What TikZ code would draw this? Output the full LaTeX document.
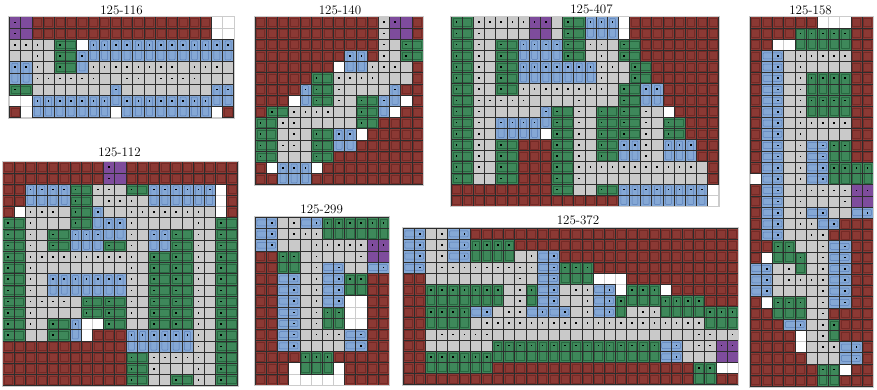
\documentclass[tikz,border=0pt]{standalone}
\definecolor{wallred}{RGB}{139,57,52}
\definecolor{wallin}{RGB}{116,42,38}
\definecolor{floorgrey}{RGB}{201,201,201}
\definecolor{pgreen}{RGB}{62,136,90}
\definecolor{pgreenin}{RGB}{40,104,64}
\definecolor{pblue}{RGB}{133,168,213}
\definecolor{pbluein}{RGB}{92,128,184}
\definecolor{ppurple}{RGB}{126,76,156}
\definecolor{gridc}{RGB}{45,45,45}
\newcount\gx \newcount\gy
\def\rowloopA#1{\ifx#1\relax\let\gnextA\relax\else\cellA#1\global\advance\gx by 1 \let\gnextA\rowloopA\fi\gnextA}
\def\rowloopB#1{\ifx#1\relax\let\gnextB\relax\else\cellB#1\global\advance\gx by 1 \let\gnextB\rowloopB\fi\gnextB}
\def\cellA#1{\path[cl#1] (\gox+\the\gx*\gs,\goy+\the\gy*\gs) rectangle ++(\gs,\gs);}
\def\cellB#1{\pgfmathsetmacro\cX{\gox+\the\gx*\gs}\pgfmathsetmacro\cY{\goy+\the\gy*\gs}\csname deco#1\endcsname}
\def\bline{\draw[gline] (\cX,\cY) rectangle ++(\gs,\gs);}
\def\celldot{\fill[black] (\cX+\gs/2-0.8,\cY+\gs/2-0.8) rectangle ++(1.6,1.6);}
\def\decor{\draw[wallinset] (\cX+1.6,\cY+1.6) rectangle ++(\gs-3.2,\gs-3.2);\bline}
\def\decoe{\bline}
\def\decoE{\bline\celldot}
\def\decop{\bline}
\def\decoP{\bline\celldot}
\def\decog{\bline}
\def\decob{\bline}
\def\decoG{\draw[greeninset] (\cX+1.8,\cY+1.8) rectangle (\cX+2*\gs-1.8,\cY+\gs-1.8);\bline\celldot}
\def\decoH{\draw[greeninset] (\cX+1.8,\cY+1.8) rectangle (\cX+\gs-1.8,\cY+2*\gs-1.8);\bline\celldot}
\def\decoB{\draw[blueinset] (\cX+2.6,\cY+1.8) rectangle (\cX+\gs-2.6,\cY+2*\gs-1.8);\bline\celldot}
\def\decoC{\draw[blueinset] (\cX-\gs+1.8,\cY+2.6) rectangle (\cX+\gs-1.8,\cY+\gs-2.6);\bline\celldot}
\newcommand\drawgrid[4]{%
 \def\gox{#1}\def\goy{#2}\def\gs{#3}%
 \global\gy=0
 \foreach \rowstr in {#4}{\global\gx=0 \expandafter\rowloopA\rowstr\relax\global\advance\gy by 1 }%
 \global\gy=0
 \foreach \rowstr in {#4}{\global\gx=0 \expandafter\rowloopB\rowstr\relax\global\advance\gy by 1 }%
 \draw[gframe] (\gox-0.6,\goy-0.6) rectangle (\gox+\the\gx*\gs+0.6,\goy+\the\gy*\gs+0.6);%
}
\tikzset{
 clr/.style={fill=wallred}, cle/.style={fill=floorgrey}, clE/.style={fill=floorgrey},
 clw/.style={fill=white,draw=black!20,line width=0.4pt},
 clp/.style={fill=ppurple}, clP/.style={fill=ppurple},
 clg/.style={fill=pgreen}, clG/.style={fill=pgreen}, clH/.style={fill=pgreen},
 clb/.style={fill=pblue}, clB/.style={fill=pblue}, clC/.style={fill=pblue},
 gline/.style={draw=gridc,line width=0.45pt},
 wallinset/.style={draw=wallin,line width=0.5pt},
 greeninset/.style={draw=pgreenin,line width=0.5pt},
 blueinset/.style={draw=pbluein,line width=0.5pt,rounded corners=0.8pt},
 gframe/.style={draw=black!20,line width=0.8pt},
 ttl/.style={font=\fontsize{13}{15}\selectfont,inner sep=0pt}
}
\begin{document}
\begin{tikzpicture}[x=1pt,y=-1pt]
\useasboundingbox (0,0) rectangle (877,390);
\fill[white] (0,0) rectangle (877,390);
% 125-116
\drawgrid{9.3}{16.7}{11.22}{
Pprrrrrrrrrrrrrrrrww,
Pprrrrrrrrrrrrrrrrww,
EEEeGgwBBBBBBBBBBBBB,
eeEeGgBbbbbbbbbbbbbb,
BBEeGgbEEEEEEEEeEEEe,
bbEEEEEEeeEEeEEEEeee,
GgeeeeeeeBeeeeeeeeBB,
wwBBBBBBBbBBBBBBBBbb,
rwbbbbbbbwbbbbbbbbwr}
% 125-140
\drawgrid{255}{16.7}{11.2}{
rrrrrrrrrrrEPpr,
rrrrrrrrrrrEppr,
rrrrrrrrrrrEeGg,
rrrrrrrrBBrEeGg,
rrrrrrrwbbEEEer,
rrrrrGgEEEEeeer,
rrrrBGgEeeeeBrr,
rrrwbGgEeGgBbwr,
rGgEEEEeeGgbwrr,
GgEEeeeeeGgrrrr,
GgeEeGgBBwrrrrr,
GgEEeGgbbrrrrrr,
GgeeeGgrrrrrrrr,
rwBBBwrrrrrrrrr,
rrbbbrrrrrrrrrr}
% 125-407
\drawgrid{451}{16.7}{11.15}{
GgEEEEEPPeGgBBBwrrrrrrrr,
GgEeeeeppeGgbbbwrrrrrrrr,
GgEeGgBBBBGgEEeGgrrrrrrr,
GgEeGgbbbbGgeEeGgrrrrrrr,
GgEeGgBBBBBBBEEeGgrrrrrr,
GgEeGgbbbbbbbEeeGgrrrrrr,
GgEeGgEEEEEEEEeGgBBrrrrr,
GgEEEEEeeeeEeeeGgbbrrrrr,
GgEeeeeeBGgEeGgGgEewrrrr,
GgEeBBBBbGgEeGgGgEeGgrrr,
GgEebbbbwGgEeGgGgEeGgrrr,
GgEeGgrrrGgEeGgBBEeBBBrr,
GgEeGgrrrGgEeGgbbEebbbrr,
GgEeGgrrrGgEEEEEEEEEEEer,
GgeeGgrrrGgEeeeeeeeeeeer,
rrrrrrrrrGgeeGgBBBBBBBBw,
rrrrrrrrrrrrrrrbbbbbbbbw}
% 125-158
\drawgrid{750}{16.7}{11.2}{
rrrrrrwwwrr,
rrrrHHHHHrr,
rrwwgggggrr,
rbCeEEEEErr,
rbCeEeeeerr,
rbCeEHHHHrr,
rbCeEggggrr,
rbCeEHHHHrr,
rbCeEggggrr,
rbCeEEEEErr,
rbCeEeeeerr,
rbCeEbCHHrr,
rbCeEbCggrr,
rbCeEbCHHHH,
wbCeEbCgggg,
rbCeEEEEEPP,
rbCeEeeeEpp,
rbCeEbCeebC,
rbCeEEbCrrr,
rbCeeEErrrr,
rrHHeeEbCrr,
rwggHeEbCrr,
bCeEgeEbCrr,
bCeEEEEbCrr,
bCeeeeEbCrr,
rwHHHeEbCrr,
rrgggeErrrr,
rrrbCeEHrrr,
rrrrweEgrrr,
rrrrweEEbCr,
rrrrreeebCr,
rrrrrrHHwrr,
rrrrrrggrrr}
% 125-112
\drawgrid{2.7}{161.7}{11.19}{
rrrrrrrrrPprrrrrrrrrr,
rrrrrrrrrPprrrrrrrrrr,
rrBBBBGgEEeGgBBBBBBwr,
rrbbbbGgeEEEebbbbbbwr,
rwEEEeGgBeeEEEEEEEewr,
GgEeeeGgbBBEeeeeeEeGg,
GgEeGgBBBbbEeBBGgEeGg,
GgEeGgbbbGgEebbGgEeGg,
GgEEEEEEEEEEeGgGgEeGg,
GgEeeeeeeeeEeGgGgEeGg,
GgEeBBBBBBBEeGgGgEeGg,
GgEebbbbbbbEeGgGgEeGg,
GgEEEEeGgGgEeGgGgEeGg,
GgEeeeeGgGgEeGgGgEeGg,
GgEeGgBwwGgeeGgGgEeGg,
GgeeGgbwrrrBBBBBBEeGg,
rrrrrrrrrrrbbbbbbEeGg,
rrrrrrrrrrrGgEEEEEeGg,
rrrrrrrrrrrGgEeeeEeGg,
rrrrrrrrrrrGgeeGgEeGg}
% 125-299
\drawgrid{255}{217.3}{11.18}{
bCeEbCHHHHHH,
bCeEEEgggggg,
bCeeeEEEEEPP,
rrHHeEeeeEpp,
rrggeEbCeebC,
rrbCeEbCHHrr,
rrbCeEbCggrr,
rrbCeEbCwwrr,
rrbCeEHHwwrr,
rrbCeEggwwrr,
rrbCeEEEbCrr,
rrbCeeeebCrr,
rrrrHHHrrrrr,
rrrwgggwrrrr,
rrrwwwwwrrrr}
% 125-372
\drawgrid{403}{228.3}{11.17}{
bCeEb Crrrr rrrrr rrrrr rrrrr rrrrr,
bCeEb CHHHH rrrrr rrrrr rrrrr rrrrr,
bCeEb Cgggg eEbCr rrrrr rrrrr rrrrr,
bCeEE EEEEE EEbCH HHrrr rrrrr rrrrr,
rreee eeeee EebCg ggwww rrrrr rrrrr,
rrHHH HHHHe EHbCe EEbCw HHHwr rrrrr,
rrggg gggge EgbCe eEbCH gggHH HHrrr,
rrHHH HbCeE EbCbC eEbCg eEEgg ggHHH,
rrggg geEEE EEEEE EEEEE EEEEE EEggg,
rreEE EEEee eeeee eeeee eeeee eEEeE,
rreee eeeHH HHHHH HHHHH HHHbC eEEPP,
rrHHH HHHgg ggggg ggggg gggbC eeepp,
rrggg gggrr rrrrr rrrrr rrrrr rHHww,
rrrrr rrrrr rrrrr rrrrr rrrrr rggrr}
\node[ttl] (t116) at (121.5,10) {125-116};
\node[ttl] (t140) at (340,10) {125-140};
\node[ttl] (t407) at (591.5,9.5) {125-407};
\node[ttl] (t158) at (810.5,10) {125-158};
\node[ttl] (t112) at (119.5,152.7) {125-112};
\node[ttl] (t299) at (321.7,209) {125-299};
\node[ttl] (t372) at (578,220) {125-372};
\end{tikzpicture}
\end{document}
